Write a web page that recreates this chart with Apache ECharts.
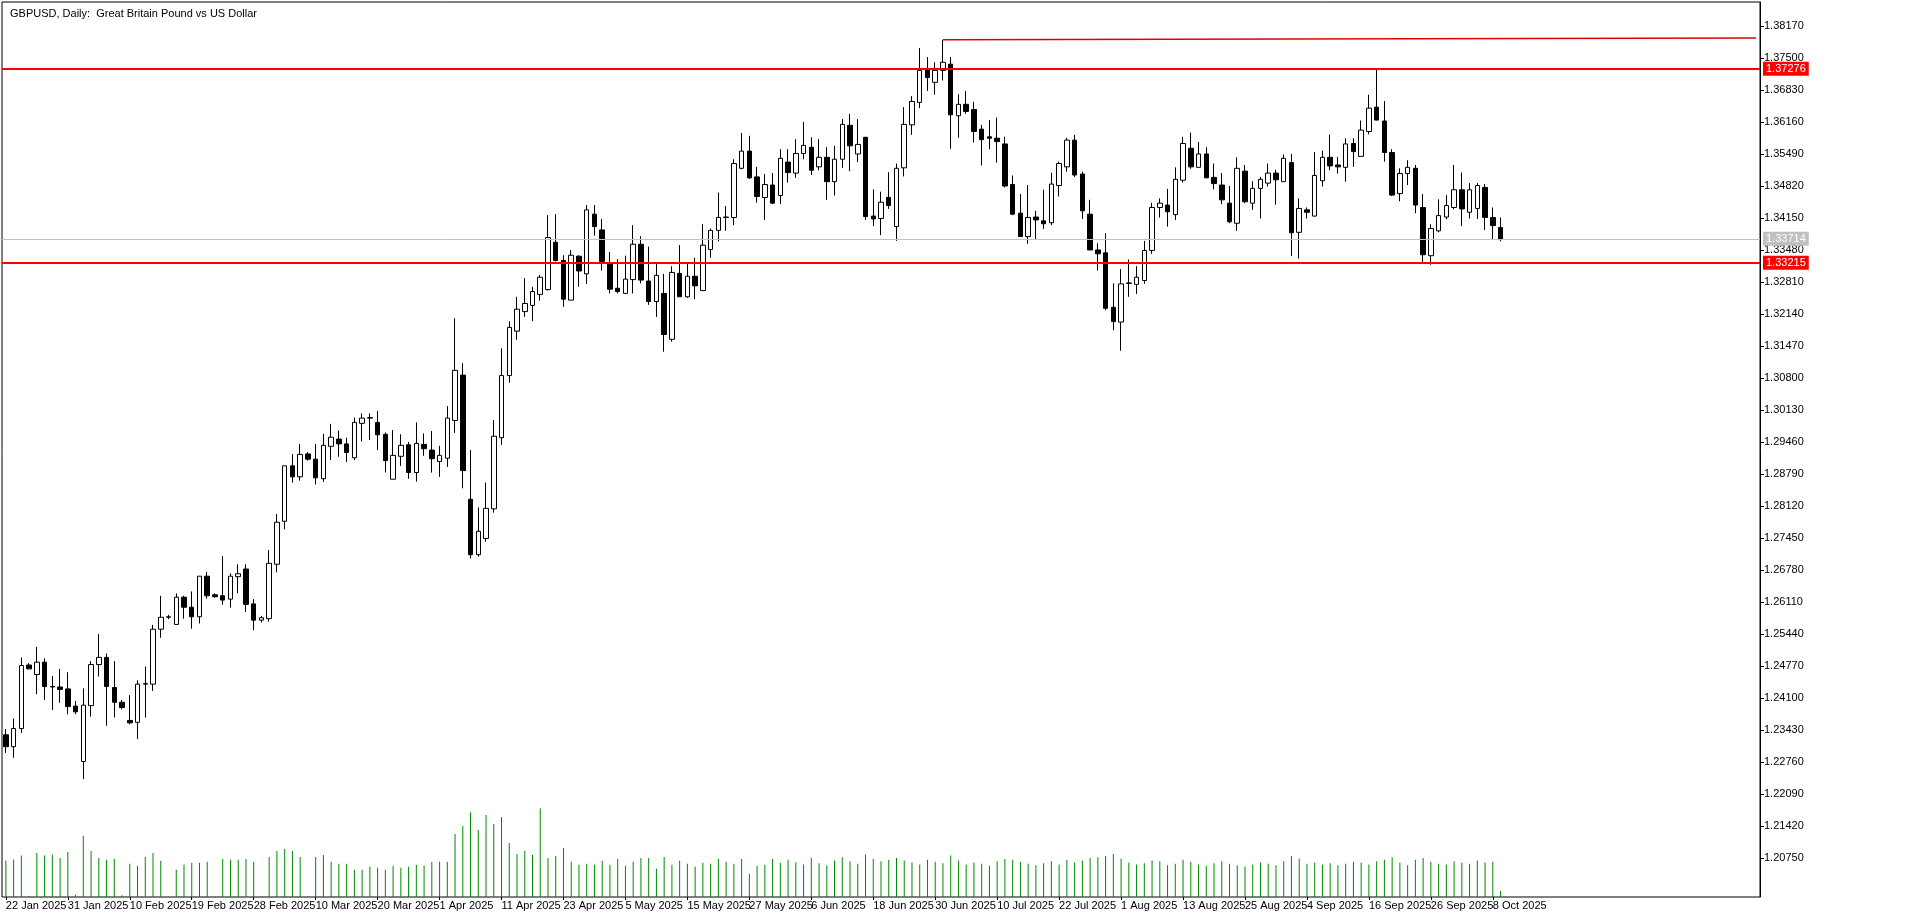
<!DOCTYPE html>
<html><head><meta charset="utf-8">
<script src="https://cdn.jsdelivr.net/npm/echarts@6/dist/echarts.min.js"></script>
<style>html,body{margin:0;padding:0;background:#fff}#c{width:1920px;height:915px}</style>
</head><body><div id="c"></div>
<script>
const opens=[1.2333,1.2308,1.2346,1.2479,1.2459,1.2485,1.2434,1.2433,1.2429,1.2393,1.2277,1.2394,1.2480,1.2495,1.2432,1.2401,1.2363,1.2359,1.2439,1.2439,1.2554,1.2579,1.2564,1.2621,1.2600,1.2580,1.2665,1.2626,1.2624,1.2617,1.2664,1.2680,1.2607,1.2573,1.2576,1.2690,1.2780,1.2896,1.2873,1.2921,1.2910,1.2869,1.2937,1.2952,1.2942,1.2913,1.2985,1.2996,1.2987,1.2962,1.2868,1.2916,1.2940,1.2882,1.2941,1.2929,1.2905,1.2912,1.2991,1.3086,1.2826,1.2710,1.2744,1.2806,1.2955,1.3085,1.3178,1.3219,1.3232,1.3255,1.3265,1.3364,1.3326,1.3243,1.3335,1.3298,1.3423,1.3390,1.3320,1.3268,1.3257,1.3286,1.3360,1.3283,1.3240,1.3257,1.3161,1.3299,1.3250,1.3293,1.3263,1.3349,1.3389,1.3416,1.3416,1.3519,1.3555,1.3501,1.3458,1.3484,1.3462,1.3532,1.3509,1.3550,1.3563,1.3522,1.3542,1.3491,1.3538,1.3609,1.3549,1.3584,1.3419,1.3414,1.3458,1.3397,1.3520,1.3610,1.3657,1.3728,1.3699,1.3724,1.3737,1.3629,1.3653,1.3642,1.3601,1.3585,1.3582,1.3570,1.3485,1.3425,1.3376,1.3417,1.3409,1.3405,1.3483,1.3522,1.3578,1.3507,1.3423,1.3348,1.3342,1.3228,1.3197,1.3278,1.3276,1.3284,1.3347,1.3437,1.3442,1.3422,1.3494,1.3561,1.3521,1.3549,1.3500,1.3484,1.3446,1.3404,1.3513,1.3446,1.3477,1.3488,1.3509,1.3491,1.3531,1.3385,1.3432,1.3419,1.3493,1.3542,1.3526,1.3521,1.3571,1.3544,1.3596,1.3647,1.3618,1.3552,1.3466,1.3508,1.3519,1.3437,1.3336,1.3388,1.3417,1.3437,1.3474,1.3427,1.3435,1.3479,1.3416,1.3395];
const highs=[1.2345,1.2367,1.2495,1.2483,1.2517,1.2493,1.2456,1.2471,1.2464,1.2404,1.2430,1.2487,1.2544,1.2503,1.2487,1.2406,1.2416,1.2447,1.2476,1.2563,1.2624,1.2584,1.2629,1.2624,1.2633,1.2665,1.2674,1.2629,1.2707,1.2671,1.2690,1.2690,1.2617,1.2582,1.2720,1.2795,1.2896,1.2921,1.2942,1.2925,1.2942,1.2963,1.2984,1.2970,1.2955,1.2997,1.3006,1.3006,1.3011,1.2966,1.2971,1.2962,1.2946,1.2987,1.2964,1.2969,1.2938,1.3021,1.3205,1.3111,1.2929,1.2809,1.2861,1.2992,1.3142,1.3199,1.3250,1.3289,1.3271,1.3296,1.3421,1.3423,1.3337,1.3348,1.3337,1.3442,1.3442,1.3413,1.3344,1.3329,1.3336,1.3400,1.3377,1.3355,1.3320,1.3298,1.3314,1.3358,1.3320,1.3332,1.3402,1.3393,1.3468,1.3440,1.3538,1.3593,1.3587,1.3522,1.3507,1.3509,1.3559,1.3559,1.3580,1.3616,1.3584,1.3580,1.3563,1.3566,1.3622,1.3633,1.3622,1.3584,1.3475,1.3470,1.3511,1.3529,1.3647,1.3670,1.3771,1.3752,1.3741,1.3788,1.3752,1.3674,1.3681,1.3658,1.3610,1.3620,1.3625,1.3585,1.3504,1.3465,1.3484,1.3430,1.3474,1.3510,1.3533,1.3583,1.3589,1.3512,1.3453,1.3362,1.3383,1.3278,1.3308,1.3328,1.3314,1.3367,1.3447,1.3456,1.3476,1.3521,1.3585,1.3594,1.3574,1.3563,1.3529,1.3509,1.3482,1.3542,1.3526,1.3492,1.3501,1.3529,1.3516,1.3548,1.3549,1.3456,1.3437,1.3553,1.3556,1.3590,1.3543,1.3582,1.3582,1.3619,1.3673,1.3727,1.3660,1.3559,1.3519,1.3536,1.3526,1.3465,1.3402,1.3454,1.3463,1.3526,1.3510,1.3488,1.3488,1.3486,1.3437,1.3416];
const lows=[1.2295,1.2285,1.2337,1.2470,1.2418,1.2406,1.2385,1.2400,1.2376,1.2376,1.2240,1.2371,1.2455,1.2352,1.2369,1.2386,1.2355,1.2324,1.2369,1.2425,1.2536,1.2575,1.2564,1.2576,1.2555,1.2566,1.2618,1.2620,1.2605,1.2599,1.2629,1.2590,1.2552,1.2568,1.2570,1.2673,1.2763,1.2861,1.2865,1.2907,1.2857,1.2862,1.2908,1.2915,1.2904,1.2908,1.2947,1.2950,1.2929,1.2882,1.2868,1.2896,1.2869,1.2863,1.2917,1.2882,1.2873,1.2894,1.2965,1.2849,1.2702,1.2706,1.2737,1.2798,1.2940,1.3070,1.3160,1.3208,1.3199,1.3242,1.3263,1.3324,1.3229,1.3243,1.3271,1.3277,1.3378,1.3305,1.3257,1.3257,1.3257,1.3257,1.3278,1.3233,1.3208,1.3135,1.3156,1.3250,1.3248,1.3245,1.3263,1.3332,1.3366,1.3388,1.3400,1.3517,1.3497,1.3447,1.3411,1.3444,1.3444,1.3489,1.3499,1.3538,1.3505,1.3515,1.3453,1.3462,1.3520,1.3513,1.3532,1.3411,1.3398,1.3379,1.3434,1.3367,1.3502,1.3589,1.3645,1.3681,1.3673,1.3703,1.3560,1.3583,1.3633,1.3573,1.3525,1.3559,1.3531,1.3479,1.3421,1.3376,1.3361,1.3371,1.3392,1.3400,1.3460,1.3512,1.3501,1.3413,1.3348,1.3305,1.3222,1.3180,1.3137,1.3250,1.3256,1.3277,1.3340,1.3416,1.3397,1.3411,1.3489,1.3518,1.3521,1.3499,1.3475,1.3444,1.3404,1.3388,1.3446,1.3432,1.3414,1.3481,1.3443,1.3491,1.3335,1.3330,1.3414,1.3418,1.3481,1.3515,1.3508,1.3491,1.3522,1.3544,1.3590,1.3619,1.3533,1.3461,1.3450,1.3484,1.3425,1.3321,1.3317,1.3385,1.3412,1.3433,1.3398,1.3414,1.3413,1.3390,1.3369,1.3366];
const closes=[1.2308,1.2346,1.2478,1.2471,1.2485,1.2434,1.2433,1.2428,1.2392,1.2381,1.2395,1.2480,1.2495,1.2434,1.2401,1.2390,1.2358,1.2439,1.2440,1.2554,1.2579,1.2580,1.2621,1.2600,1.2580,1.2665,1.2624,1.2622,1.2615,1.2665,1.2670,1.2606,1.2573,1.2578,1.2692,1.2778,1.2896,1.2873,1.2920,1.2910,1.2871,1.2939,1.2956,1.2942,1.2924,1.2987,1.2996,1.2997,1.2961,1.2907,1.2918,1.2939,1.2882,1.2943,1.2932,1.2911,1.2918,1.2996,1.3096,1.2886,1.2710,1.2759,1.2807,1.2958,1.3085,1.3186,1.3224,1.3236,1.3261,1.3291,1.3374,1.3326,1.3245,1.3337,1.3304,1.3432,1.3397,1.3324,1.3266,1.3261,1.3287,1.3360,1.3285,1.3240,1.3295,1.3171,1.3301,1.3250,1.3293,1.3273,1.3358,1.3389,1.3416,1.3417,1.3529,1.3555,1.3499,1.3460,1.3485,1.3446,1.3540,1.3510,1.3550,1.3567,1.3515,1.3542,1.3491,1.3538,1.3611,1.3566,1.3569,1.3418,1.3413,1.3448,1.3441,1.3519,1.3611,1.3659,1.3724,1.3709,1.3724,1.3741,1.3631,1.3653,1.3638,1.3596,1.3579,1.3582,1.3575,1.3482,1.3423,1.3376,1.3416,1.3411,1.3403,1.3486,1.3529,1.3578,1.3505,1.3430,1.3348,1.3340,1.3226,1.3198,1.3277,1.3279,1.3291,1.3347,1.3437,1.3446,1.3428,1.3496,1.3571,1.3522,1.3549,1.3499,1.3487,1.3453,1.3407,1.3519,1.3449,1.3477,1.3496,1.3509,1.3495,1.3540,1.3384,1.3435,1.3427,1.3504,1.3542,1.3524,1.3522,1.3570,1.3554,1.3599,1.3645,1.3620,1.3552,1.3463,1.3508,1.3521,1.3442,1.3338,1.3393,1.3420,1.3441,1.3474,1.3434,1.3474,1.3483,1.3416,1.3399,1.3371];
const volumes=[110,113,125,3,133,125,128,118,136,7,185,139,118,112,115,5,100,94,121,133,109,1,82,98,103,103,106,1,115,112,112,115,106,1,121,139,145,139,121,1,121,127,106,100,100,82,82,91,88,82,94,88,91,97,94,106,106,106,190,214,256,202,247,220,241,163,130,139,127,268,118,124,148,106,97,100,97,109,97,115,94,106,118,118,85,121,97,109,100,91,103,100,115,106,100,115,70,94,97,115,103,
112,105,98,118,102,95,110,120,108,100,128,115,108,112,118,110,104,98,112,106,102,125,110,98,104,100,94,108,115,112,106,100,96,102,108,98,112,104,110,118,120,124,130,116,104,98,102,110,108,96,100,112,106,98,94,102,108,100,96,92,98,104,100,96,108,124,116,100,104,98,102,96,100,106,104,98,108,112,120,104,96,112,118,106,100,98,108,104,100,110,104,106,18];
const priceTicks=[1.38170,1.37500,1.36830,1.36160,1.35490,1.34820,1.34150,1.33480,1.32810,1.32140,1.31470,1.30800,1.30130,1.29460,1.28790,1.28120,1.27450,1.26780,1.26110,1.25440,1.24770,1.24100,1.23430,1.22760,1.22090,1.21420,1.20750];
const levels={resistance:1.37276,support:1.33215,last:1.33714,stepHigh:1.37919};
const stepStart=121;

const MON=['Jan','Feb','Mar','Apr','May','Jun','Jul','Aug','Sep','Oct','Nov','Dec'];
const cats=[];let d=new Date(Date.UTC(2025,0,22));
const sundayEnd=Date.UTC(2025,2,9);
while(cats.length<opens.length){const w=d.getUTCDay(),t=d.getTime();
 if(w!==6 && !(w===0&&t>sundayEnd)) cats.push(d.getUTCDate()+' '+MON[d.getUTCMonth()]+' 2025');
 d=new Date(t+86400000);}
const N=227;const allCats=cats.slice();for(let i=allCats.length;i<N;i++)allCats.push('pad'+i);
const candle=opens.map((o,i)=>[o,closes[i],lows[i],highs[i]]);
const vol=volumes.slice();
const showIdx=i=>i%8===0&&i<opens.length;

const font='"Liberation Sans", Arial, sans-serif';
const ch=echarts.init(document.getElementById('c'));
const lbl=(c,bg)=>({show:true,position:'end',formatter:p=>p.value.toFixed(5),color:c,backgroundColor:bg,padding:[2,3,1,3],fontSize:11,fontFamily:font,distance:3});
ch.setOption({
 animation:false,
 title:{text:'GBPUSD, Daily:  Great Britain Pound vs US Dollar',left:5,top:3,textStyle:{fontSize:11,fontWeight:'normal',color:'#000',fontFamily:font}},
 grid:{left:2,right:160,top:2,bottom:18,show:true,borderColor:'#000',borderWidth:1,backgroundColor:'#fff'},
 xAxis:{type:'category',data:allCats,boundaryGap:true,
  axisLine:{show:false},
  axisTick:{show:true,length:3,lineStyle:{color:'#000'},interval:showIdx,alignWithLabel:true},
  axisLabel:{interval:0,hideOverlap:false,formatter:(v,i)=>showIdx(i)?v:'',align:'left',margin:3,fontSize:11,color:'#000',fontFamily:font},
  splitLine:{show:false}},
 yAxis:[{type:'value',position:'right',min:1.19933,max:1.38672,scale:true,
  axisLine:{show:true,lineStyle:{color:'#000'}},
  axisTick:{show:true,customValues:priceTicks,length:4,inside:false,lineStyle:{color:'#000'}},
  axisLabel:{customValues:priceTicks,formatter:v=>v.toFixed(5),fontSize:11,color:'#000',margin:4,fontFamily:font},
  splitLine:{show:false}},
  {type:'value',min:0,max:2700,show:false}],
 series:[
  {type:'bar',yAxisIndex:1,data:vol,barWidth:1,itemStyle:{color:'#008a00'},silent:true},
  {type:'candlestick',data:candle,barWidth:5,
   itemStyle:{color:'#fff',color0:'#000',borderColor:'#000',borderColor0:'#000',borderWidth:1},
   markLine:{symbol:'none',silent:true,animation:false,precision:5,data:[
    {yAxis:levels.last,lineStyle:{color:'#c0c0c0',width:1,type:'solid'},label:lbl('#fff','#c0c0c0')},
    {yAxis:levels.resistance,lineStyle:{color:'#ff0000',width:2,type:'solid'},label:lbl('#fff','#ff0000')},
    {yAxis:levels.support,lineStyle:{color:'#ff0000',width:2,type:'solid'},label:lbl('#fff','#ff0000')}
   ]}},
  {type:'line',data:[[stepStart,highs[stepStart]],[stepStart,levels.stepHigh],[N-1,levels.stepHigh]],symbol:'none',lineStyle:{color:'#e00000',width:1.5},silent:true}
 ]});
</script></body></html>
